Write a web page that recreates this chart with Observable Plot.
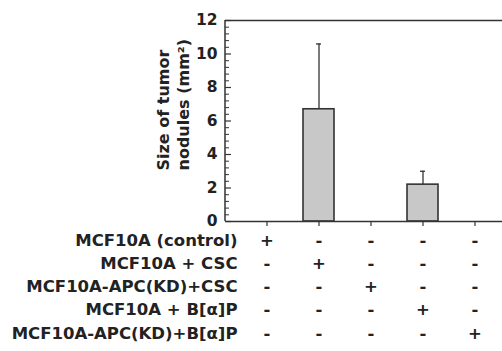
<!DOCTYPE html>
<html>
<head>
<meta charset="utf-8">
<script src="https://cdn.jsdelivr.net/npm/d3@7"></script>
<script src="https://cdn.jsdelivr.net/npm/@observablehq/plot@0.6"></script>
<style>
  html, body { margin: 0; padding: 0; background: #fff; }
  svg { display: block; }
</style>
</head>
<body>
<div id="chart"></div>
<script>
// Data
const groups = ["G1", "G2", "G3", "G4", "G5"];
const means = [0, 6.7, 0, 2.2, 0];
const errors = [0, 3.9, 0, 0.8, 0];
const rowLabels = [
  "MCF10A (control)",
  "MCF10A + CSC",
  "MCF10A-APC(KD)+CSC",
  "MCF10A + B[\u03B1]P",
  "MCF10A-APC(KD)+B[\u03B1]P"
];
const signs = [
  ["+", "-", "-", "-", "-"],
  ["-", "+", "-", "-", "-"],
  ["-", "-", "+", "-", "-"],
  ["-", "-", "-", "+", "-"],
  ["-", "-", "-", "-", "+"]
];
const majorTicks = [0, 2, 4, 6, 8, 10, 12];
const minorTicks = d3.range(0, 31).map(i => +(i * 0.4).toFixed(1)).filter(v => v % 2 !== 0 && v <= 12);
const yLabelLines = ["Size of tumor", "nodules (mm\u00B2)"];

const bars = groups.map((g, i) => ({group: g, mean: means[i], err: errors[i]}));
const withErr = bars.filter(d => d.err > 0);

const ink = "#333";
const font = "DejaVu Sans";
const frameW = 502 - 225;

const marks = [
  Plot.barY(bars.filter(d => d.mean > 0), {x: "group", y: "mean", fill: "#c8c8c8", stroke: ink, strokeWidth: 1.6}),
  Plot.ruleX(withErr, {x: "group", y1: "mean", y2: d => d.mean + d.err, stroke: ink, strokeWidth: 1.3}),
  Plot.tickY(withErr, {x: "group", y: d => d.mean + d.err, stroke: ink, strokeWidth: 1.3, insetLeft: 13, insetRight: 13}),
  // frame lines: top, bottom, left
  Plot.ruleY([0, 12], {stroke: ink, strokeWidth: 1.5}),
  Plot.rect([0], {y1: 0, y2: 12, fill: ink, insetLeft: -0.75, insetRight: frameW - 0.75}),
  // inward y ticks
  Plot.tickY(majorTicks, {y: d => d, stroke: ink, strokeWidth: 1.2, insetRight: frameW - 6}),
  Plot.tickY(minorTicks, {y: d => d, stroke: ink, strokeWidth: 1, insetRight: frameW - 4}),
  Plot.axisY({ticks: majorTicks, label: null, tickSize: 0, tickPadding: 8, fontSize: 15.5, fontWeight: "bold", fill: "#222", fontFamily: font}),
  Plot.axisX({label: null, tickSize: 5, tickFormat: () => "", stroke: ink, strokeWidth: 1.2}),
  // y label
  ...yLabelLines.map((t, i) => Plot.text([t], {
    text: d => d, frameAnchor: "top-left", dx: -68 + 20 * i, dy: 150,
    rotate: -90, textAnchor: "start", fontSize: 16, fontWeight: "bold", fill: "#222", fontFamily: font
  })),
  // table rows
  ...rowLabels.map((lab, i) => Plot.text([lab], {
    text: d => d, frameAnchor: "bottom-left", dx: 12, dy: 24 + 23.3 * i,
    textAnchor: "end", fontSize: 16.5, fontWeight: "bold", fill: "#222", fontFamily: font
  })),
  ...signs.map((row, i) => Plot.text(groups, {
    x: d => d, text: (d, j) => row[j], frameAnchor: "bottom", dy: 24 + 23.3 * i,
    fontSize: 16.5, fontWeight: "bold", fill: "#222", fontFamily: font
  }))
];

const chart = Plot.plot({
  width: 502,
  height: 351,
  marginLeft: 225,
  marginRight: 0,
  marginTop: 20,
  marginBottom: 130,
  style: {fontFamily: font, background: "#fff", overflow: "visible"},
  x: {type: "band", domain: groups, paddingInner: 0.4, paddingOuter: 0.2, insetLeft: 13.5, axis: null},
  y: {domain: [0, 12], axis: null},
  marks
});
document.getElementById("chart").appendChild(chart);
</script>
</body>
</html>
